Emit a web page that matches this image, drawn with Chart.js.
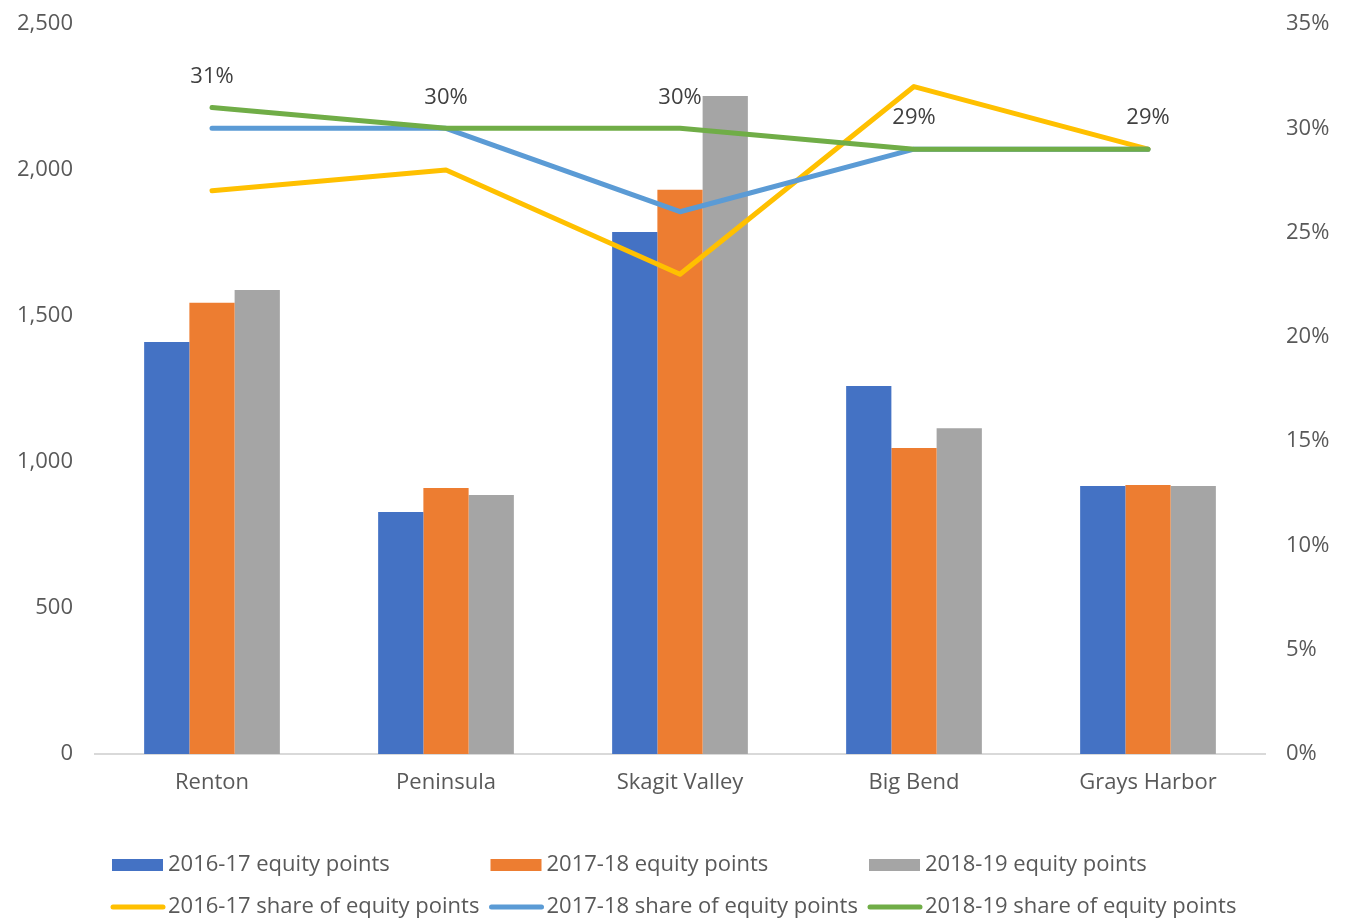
<!DOCTYPE html>
<html lang="en">
<head>
    <meta charset="UTF-8">
    <title>Equity points by college</title>
    <script src="https://cdn.jsdelivr.net/npm/chart.js"></script>
    <style>
        html, body { margin: 0; padding: 0; background: #fff; }
        #wrap { width: 1346px; height: 920px; }
    </style>
</head>
<body>
    <div id="wrap"><canvas id="equityChart"></canvas></div>

    <script>
        // data
        const colleges = ['Renton', 'Peninsula', 'Skagit Valley', 'Big Bend', 'Grays Harbor'];
        const points1617 = [1411, 829, 1788, 1260, 918];
        const points1718 = [1545, 911, 1932, 1048, 921];
        const points1819 = [1589, 887, 2253, 1116, 918];
        const share1617 = [27, 28, 23, 32, 29];
        const share1718 = [30, 30, 26, 29, 29];
        const share1819 = [31, 30, 30, 29, 29];

        const FONT = '"Open Sans", "Liberation Sans", sans-serif';
        const TEXT = '#595959';

        // labels above the 2018-19 share line
        const pointLabels = {
            id: 'pointLabels',
            afterDatasetsDraw(chart) {
                const ctx = chart.ctx;
                const meta = chart.getDatasetMeta(2);
                ctx.save();
                ctx.font = '22px ' + FONT;
                ctx.fillStyle = '#404040';
                ctx.textAlign = 'center';
                ctx.textBaseline = 'middle';
                meta.data.forEach((pt, i) => {
                    ctx.fillText(share1819[i] + '%', pt.x, pt.y - 31);
                });
                ctx.restore();
            }
        };

        // legend laid out as a 3 x 2 grid like the original
        const gridLegend = {
            id: 'gridLegend',
            afterDraw(chart) {
                const ctx = chart.ctx;
                const ds = chart.data.datasets;
                const order = [3, 4, 5, 0, 1, 2];
                ctx.save();
                ctx.font = '22px ' + FONT;
                ctx.textBaseline = 'middle';
                ctx.textAlign = 'left';
                order.forEach((di, k) => {
                    const d = ds[di];
                    const col = k % 3, row = Math.floor(k / 3);
                    const x = 110 + col * 378.5;
                    const y = 865 + row * 42;
                    if (d.type === 'bar') {
                        ctx.fillStyle = d.backgroundColor;
                        ctx.fillRect(x + 2, y - 6, 51, 12);
                    } else {
                        ctx.strokeStyle = d.borderColor;
                        ctx.lineWidth = 5;
                        ctx.lineCap = 'round';
                        ctx.beginPath();
                        ctx.moveTo(x + 3, y);
                        ctx.lineTo(x + 53, y);
                        ctx.stroke();
                    }
                    ctx.fillStyle = TEXT;
                    ctx.fillText(d.label, x + 58, y);
                });
                ctx.restore();
            }
        };

        const lineStyle = {
            type: 'line',
            yAxisID: 'yShare',
            borderWidth: 5,
            borderCapStyle: 'round',
            borderJoinStyle: 'round',
            pointRadius: 0,
            tension: 0,
            fill: false
        };
        const barStyle = {
            type: 'bar',
            yAxisID: 'yPoints',
            barPercentage: 1,
            categoryPercentage: 0.58,
            order: 3
        };

        new Chart(document.getElementById('equityChart'), {
            data: {
                labels: colleges,
                datasets: [
                    Object.assign({}, lineStyle, { label: '2016-17 share of equity points', data: share1617, borderColor: '#FFC000', order: 2 }),
                    Object.assign({}, lineStyle, { label: '2017-18 share of equity points', data: share1718, borderColor: '#5B9BD5', order: 1 }),
                    Object.assign({}, lineStyle, { label: '2018-19 share of equity points', data: share1819, borderColor: '#70AD47', order: 0 }),
                    Object.assign({}, barStyle, { label: '2016-17 equity points', data: points1617, backgroundColor: '#4472C4' }),
                    Object.assign({}, barStyle, { label: '2017-18 equity points', data: points1718, backgroundColor: '#ED7D31' }),
                    Object.assign({}, barStyle, { label: '2018-19 equity points', data: points1819, backgroundColor: '#A5A5A5' })
                ]
            },
            options: {
                responsive: true,
                maintainAspectRatio: false,
                animation: false,
                layout: { padding: { top: 24, left: 0, right: 0, bottom: 0 } },
                plugins: {
                    legend: { display: false },
                    tooltip: { enabled: false }
                },
                scales: {
                    x: {
                        grid: { display: false, drawTicks: false },
                        border: { display: true, color: '#D9D9D9', width: 2 },
                        ticks: { color: TEXT, font: { family: FONT, size: 22 }, padding: 16 },
                        afterFit(scale) { scale.height = 166; }
                    },
                    yPoints: {
                        position: 'left',
                        min: 0,
                        max: 2500,
                        grid: { display: false, drawTicks: false },
                        border: { display: false },
                        ticks: {
                            stepSize: 500,
                            color: TEXT,
                            font: { family: FONT, size: 22 },
                            padding: 22,
                            callback: v => v.toLocaleString('en-US')
                        },
                        afterFit(scale) { scale.width = 95; scale.paddingTop = 0; scale.paddingBottom = 0; }
                    },
                    yShare: {
                        position: 'right',
                        min: 0,
                        max: 35,
                        grid: { display: false, drawTicks: false },
                        border: { display: false },
                        ticks: {
                            stepSize: 5,
                            color: TEXT,
                            font: { family: FONT, size: 22 },
                            padding: 21,
                            callback: v => v + '%'
                        },
                        afterFit(scale) { scale.width = 81; scale.paddingTop = 0; scale.paddingBottom = 0; }
                    }
                }
            },
            plugins: [pointLabels, gridLegend]
        });
    </script>
</body>
</html>
